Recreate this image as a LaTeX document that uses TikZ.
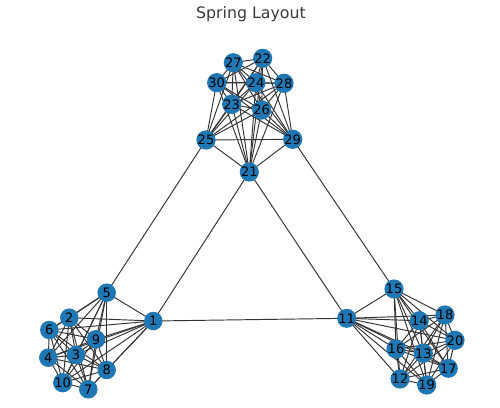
\documentclass[tikz,border=0pt]{standalone}
\usepackage{fontspec}
\setmainfont{DejaVu Sans}
\usetikzlibrary{backgrounds}
\definecolor{nodeblue}{HTML}{1F77B4}
\definecolor{edgegray}{HTML}{333333}
\definecolor{titlegray}{HTML}{3A3A3A}
\begin{document}
\begin{tikzpicture}[x=1pt,y=-1pt,
  vtx/.style={circle,fill=nodeblue,inner sep=0pt,minimum size=18.5pt,font=\fontsize{13}{13}\selectfont,text=black},
  edg/.style={draw=edgegray,line width=0.95pt,shorten <=-2pt,shorten >=-2pt}]
\useasboundingbox (0,0) rectangle (500,407);
\node[anchor=base,text=titlegray,font=\fontsize{15.8}{16}\selectfont,inner sep=0pt] (title) at (251,18) {Spring Layout};
% nodes
\foreach \n/\x/\y in {1/153.3/321,2/69.3/317.7,3/76/355,4/48.3/357.7,5/106.7/292.7,6/49.3/330,7/88.3/389.3,8/106.7/370,9/96/339.3,10/62.7/382.7,
11/346.7/318.3,12/400/379,13/423.3/353.3,14/419.3/320.7,15/394/289,16/396/349,17/448.3/368.3,18/445/315,19/426.7/385,20/455/340.3,
21/249.3/172,22/262.7/58.3,23/231.7/104.3,24/256/82.7,25/206/140,26/261.7/110,27/233.3/62.7,28/284/83.3,29/292.7/139.3,30/216.7/82.7}
  \node[vtx] (n\n) at (\x,\y) {\n};
% edges
\begin{scope}[on background layer]
\fill[white] (0,0) rectangle (500,407);
\foreach \b in {0,10,20}{
  \foreach \i in {1,...,9}{
    \pgfmathtruncatemacro{\ist}{\i+1}
    \foreach \j in {\ist,...,10}{
      \pgfmathtruncatemacro{\a}{\b+\i}
      \pgfmathtruncatemacro{\c}{\b+\j}
      \draw[edg] (n\a) -- (n\c);
    }
  }
}
\draw[edg] (n1) -- (n11);
\draw[edg] (n1) -- (n21);
\draw[edg] (n11) -- (n21);
\draw[edg] (n5) -- (n25);
\draw[edg] (n15) -- (n29);
\end{scope}
\end{tikzpicture}
\end{document}
